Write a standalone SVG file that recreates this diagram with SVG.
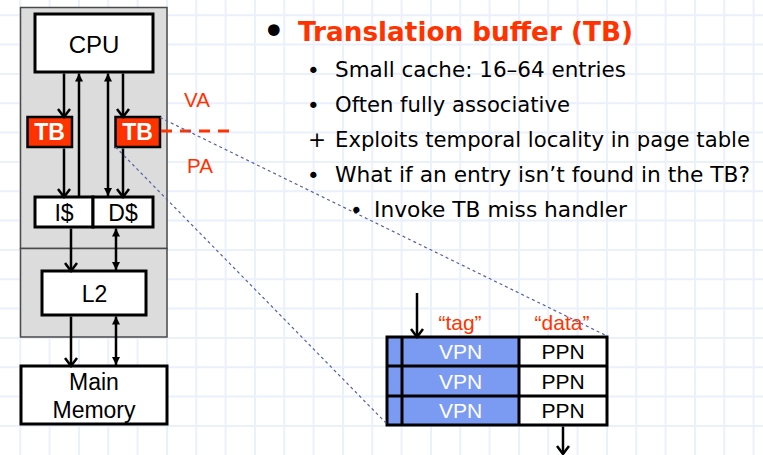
<svg xmlns="http://www.w3.org/2000/svg" width="763" height="455" viewBox="0 0 763 455">
<style>
.box{fill:#fff;stroke:#000;stroke-width:3}
.tb{fill:#ff3300;stroke:#000;stroke-width:2.5}
.lbl{font-family:"Liberation Sans",Arial,sans-serif;fill:#000;text-anchor:middle}
.tbt{font-family:"Liberation Sans",Arial,sans-serif;font-weight:bold;fill:#fff;font-size:23px;text-anchor:middle}
.red{font-family:"Liberation Sans",Arial,sans-serif;fill:#ff3300;text-anchor:middle}
.body{font-family:"DejaVu Sans",Verdana,sans-serif;font-size:21.5px;fill:#000}
.arr{stroke:#000;stroke-width:2.5;fill:none}
.one{marker-end:url(#chev)}
.up{marker-end:url(#tri)}
.dbl{marker-end:url(#tri);marker-start:url(#tri)}
.blue{stroke:#5560a8;stroke-width:1.2;stroke-dasharray:3 3;fill:none}
</style>
<defs>
<marker id="chev" viewBox="-10 -8 12 16" markerWidth="12" markerHeight="16" refX="0" refY="0" orient="auto" markerUnits="userSpaceOnUse">
<path d="M-8,-6 L0,0 L-8,6" fill="none" stroke="#000" stroke-width="2.5"/>
</marker>
<marker id="tri" viewBox="-9 -5 10 10" markerWidth="10" markerHeight="10" refX="0" refY="0" orient="auto-start-reverse" markerUnits="userSpaceOnUse">
<path d="M0,0 L-8,-4 L-8,4 Z" fill="#000"/>
</marker>
</defs>
<rect x="0" y="0" width="763" height="455" fill="#fff"/>
<path id="grid" stroke="#ebf0fd" stroke-width="2" fill="none" d="M20.3,0V455M49.6,0V455M79,0V455M108.3,0V455M137.6,0V455M167,0V455M196.3,0V455M225.6,0V455M255,0V455M284.3,0V455M313.6,0V455M343,0V455M372.3,0V455M401.6,0V455M431,0V455M460.3,0V455M489.6,0V455M519,0V455M548.3,0V455M577.6,0V455M607,0V455M636.3,0V455M665.6,0V455M695,0V455M724.3,0V455M753.6,0V455M0,15.3H763M0,44.6H763M0,74H763M0,103.3H763M0,132.6H763M0,162H763M0,191.3H763M0,220.6H763M0,250H763M0,279.3H763M0,308.6H763M0,338H763M0,367.3H763M0,396.6H763M0,426H763"/>

<g id="chip">
<rect x="20.5" y="7.5" width="146.5" height="241" fill="#dcdcdc" stroke="#4a4a4a" stroke-width="1.5"/>
<rect x="20.5" y="248.5" width="146.5" height="88.5" fill="#dcdcdc" stroke="#4a4a4a" stroke-width="1.5"/>
</g>

<g id="cpu">
<rect class="box" x="35" y="14" width="118" height="58"/>
<text class="lbl" x="94" y="53" font-size="24">CPU</text>
</g>
<g id="tb-i">
<rect class="tb" x="27.5" y="117" width="44.5" height="30"/>
<text class="tbt" x="49.5" y="140">TB</text>
</g>
<g id="tb-d">
<rect class="tb" x="115.5" y="117" width="44.5" height="30"/>
<text class="tbt" x="137.5" y="140">TB</text>
</g>
<g id="icache">
<rect class="box" x="35" y="197" width="58" height="30"/>
<text class="lbl" x="64" y="221" font-size="23">I$</text>
</g>
<g id="dcache">
<rect class="box" x="93" y="197" width="60" height="30"/>
<text class="lbl" x="123" y="221" font-size="23">D$</text>
</g>
<g id="l2">
<rect class="box" x="42" y="271" width="104" height="44"/>
<text class="lbl" x="94.5" y="302" font-size="23">L2</text>
</g>
<g id="mem">
<rect class="box" x="21" y="366" width="146" height="58"/>
<text class="lbl" x="94" y="390" font-size="23">Main</text>
<text class="lbl" x="94" y="418" font-size="23">Memory</text>
</g>
<g id="labels">
<text class="red" x="197" y="107" font-size="20.5">VA</text>
<text class="red" x="200" y="173" font-size="20.5">PA</text>
</g>

<g id="tlb">
<rect x="387" y="337" width="132" height="88" fill="#7b9bf2"/>
<rect x="519" y="337" width="88" height="88" fill="#fff"/>
<path d="M387,337H607V425H387ZM387,366H607M387,396H607M402,337V425M519,337V425" fill="none" stroke="#000" stroke-width="3"/>
<text class="lbl" x="460.5" y="359" font-size="21" style="fill:#fff">VPN</text>
<text class="lbl" x="460.5" y="389" font-size="21" style="fill:#fff">VPN</text>
<text class="lbl" x="460.5" y="418" font-size="21" style="fill:#fff">VPN</text>
<text class="lbl" x="563" y="359" font-size="21">PPN</text>
<text class="lbl" x="563" y="389" font-size="21">PPN</text>
<text class="lbl" x="563" y="418" font-size="21">PPN</text>
<text class="red" x="460" y="330" font-size="21">“tag”</text>
<text class="red" x="562" y="330" font-size="21">“data”</text>
</g>

<g id="connectors">
<path class="arr one" d="M64,73.5V117"/>
<path class="arr one" d="M64,148.5V197"/>
<path class="arr up" d="M79,196V73.5"/>
<path class="arr dbl" d="M108,73.5V196"/>
<path class="arr one" d="M123,73.5V117"/>
<path class="arr one" d="M123,148.5V197"/>
<path class="arr one" d="M71,228.5V271"/>
<path class="arr dbl" d="M116,228.5V270"/>
<path class="arr one" d="M71,316.5V366"/>
<path class="arr dbl" d="M116,316.5V365"/>
<path class="arr one" d="M417,293V337"/>
<path class="arr one" d="M563,426.5V454"/>
<path d="M161,131H229" stroke="#ff3300" stroke-width="3" stroke-dasharray="11 8" fill="none"/>
<path class="blue" d="M160,117.5L607,336"/>
<path class="blue" d="M115.5,147L387,424"/>
</g>

<g id="text">
<text x="262" y="45" font-family="DejaVu Sans,Verdana,sans-serif" font-size="40" fill="#000">•</text>
<text x="298" y="41" font-family="DejaVu Sans,Verdana,sans-serif" font-weight="bold" font-size="26" fill="#ff3300" textLength="335" lengthAdjust="spacingAndGlyphs">Translation buffer (TB)</text>
<text class="body" x="307" y="78" font-size="26">•</text>
<text class="body" x="335" y="77" textLength="291" lengthAdjust="spacingAndGlyphs">Small cache: 16–64 entries</text>
<text class="body" x="307" y="113" font-size="26">•</text>
<text class="body" x="335" y="112" textLength="235" lengthAdjust="spacingAndGlyphs">Often fully associative</text>
<text class="body" x="308" y="147">+</text>
<text class="body" x="335" y="147" textLength="415" lengthAdjust="spacingAndGlyphs">Exploits temporal locality in page table</text>
<text class="body" x="307" y="183" font-size="26">•</text>
<text class="body" x="335" y="182" textLength="415" lengthAdjust="spacingAndGlyphs">What if an entry isn’t found in the TB?</text>
<text class="body" x="350" y="218" font-size="26">•</text>
<text class="body" x="374" y="217" textLength="253" lengthAdjust="spacingAndGlyphs">Invoke TB miss handler</text>
</g>
</svg>
